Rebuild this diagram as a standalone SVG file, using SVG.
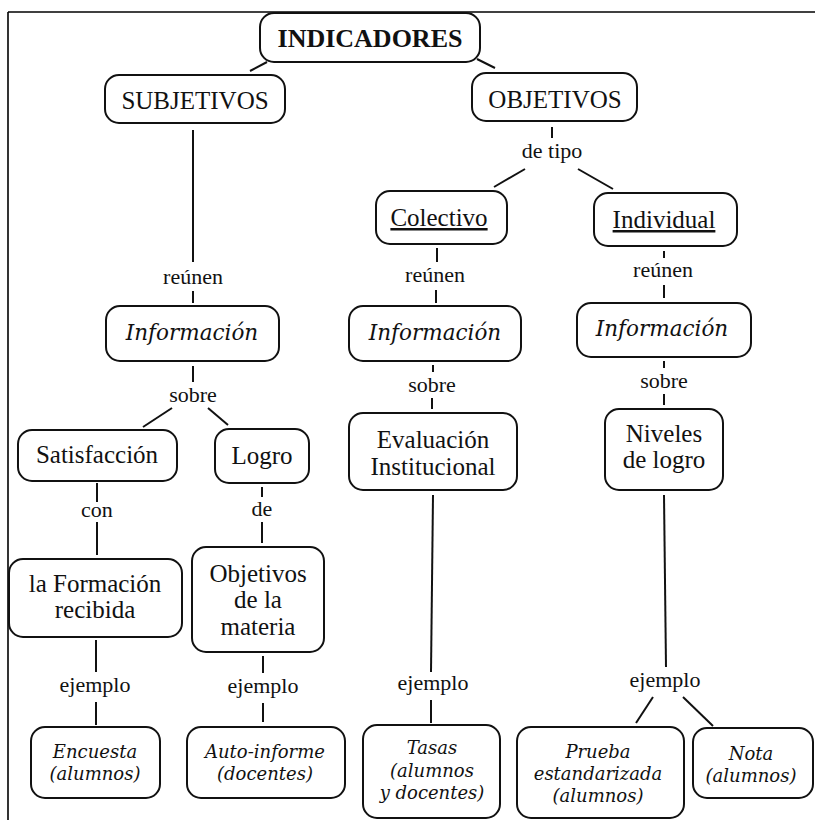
<svg xmlns="http://www.w3.org/2000/svg" width="815" height="820" viewBox="0 0 815 820">
<style>
.box{fill:#fff;stroke:#111;stroke-width:2}
.c line{stroke:#111;stroke-width:2;stroke-linecap:butt}
.border{stroke:#000;stroke-width:1.6}
text{font-family:"Liberation Serif","Times New Roman",serif;fill:#111;text-anchor:middle}
.n{font-size:25px}
.t{font-size:26px;font-weight:bold}
.l{font-size:22px}
.i{font-family:"DejaVu Serif",Georgia,serif;font-style:italic;font-size:21.5px}
.e{font-family:"DejaVu Serif",Georgia,serif;font-style:italic;font-size:18px}
.u{text-decoration:underline}
</style>
<rect width="815" height="820" fill="#fff"/>
<line class="border" x1="8" y1="12" x2="815" y2="12"/>
<line class="border" x1="8" y1="12" x2="8" y2="820"/>
<g class="c" id="connectors">
<line x1="267" y1="62" x2="250" y2="71"/>
<line x1="477" y1="59" x2="495" y2="68"/>
<line x1="193" y1="130" x2="193" y2="262"/>
<line x1="193" y1="291" x2="193" y2="303"/>
<line x1="193" y1="366" x2="193" y2="382"/>
<line x1="172" y1="408" x2="143" y2="427"/>
<line x1="208" y1="408" x2="228" y2="425"/>
<line x1="97" y1="483" x2="97" y2="502"/>
<line x1="97" y1="522" x2="97" y2="555"/>
<line x1="262" y1="487" x2="262" y2="497"/>
<line x1="262" y1="522" x2="262" y2="543"/>
<line x1="96" y1="640" x2="96" y2="672"/>
<line x1="96" y1="702" x2="96" y2="725"/>
<line x1="263" y1="656" x2="263" y2="673"/>
<line x1="263" y1="703" x2="263" y2="722"/>
<line x1="552" y1="127" x2="552" y2="138"/>
<line x1="525" y1="169" x2="494" y2="187"/>
<line x1="578" y1="169" x2="613" y2="189"/>
<line x1="437" y1="248" x2="437" y2="262"/>
<line x1="436" y1="290" x2="436" y2="303"/>
<line x1="433" y1="365" x2="433" y2="372"/>
<line x1="432" y1="398" x2="432" y2="409"/>
<line x1="433" y1="495" x2="431" y2="672"/>
<line x1="431" y1="700" x2="431" y2="723"/>
<line x1="664" y1="251" x2="664" y2="258"/>
<line x1="664" y1="285" x2="664" y2="298"/>
<line x1="664" y1="361" x2="664" y2="368"/>
<line x1="664" y1="394" x2="664" y2="405"/>
<line x1="664" y1="495" x2="666" y2="667"/>
<line x1="653" y1="697" x2="636" y2="723"/>
<line x1="683" y1="697" x2="713" y2="726"/>
</g>
<g id="labels">
<text class="l" x="193" y="284">reúnen</text>
<text class="l" x="193" y="402">sobre</text>
<text class="l" x="97" y="517">con</text>
<text class="l" x="262" y="516">de</text>
<text class="l" x="95" y="692">ejemplo</text>
<text class="l" x="263" y="693">ejemplo</text>
<text class="l" x="552" y="158">de tipo</text>
<text class="l" x="435" y="282">reúnen</text>
<text class="l" x="432" y="392">sobre</text>
<text class="l" x="433" y="690">ejemplo</text>
<text class="l" x="663" y="277">reúnen</text>
<text class="l" x="664" y="388">sobre</text>
<text class="l" x="665" y="687">ejemplo</text>
</g>
<g id="indicadores"><rect class="box" x="260" y="13" width="220" height="49" rx="14"/><text class="t" x="370" y="47">INDICADORES</text></g>
<g id="subjetivos"><rect class="box" x="105" y="75" width="180" height="48" rx="14"/><text class="n" x="195" y="109">SUBJETIVOS</text></g>
<g id="objetivos"><rect class="box" x="472" y="73" width="165" height="48" rx="14"/><text class="n" x="555" y="108">OBJETIVOS</text></g>
<g id="colectivo"><rect class="box" x="376" y="191" width="131" height="53" rx="14"/><text class="n u" x="439" y="226">Colectivo</text></g>
<g id="individual"><rect class="box" x="594" y="193" width="143" height="53" rx="14"/><text class="n u" x="664" y="228">Individual</text></g>
<g id="info-subj"><rect class="box" x="106" y="306" width="173" height="55" rx="14"/><text class="i" x="192" y="340">Información</text></g>
<g id="info-col"><rect class="box" x="349" y="306" width="172" height="55" rx="14"/><text class="i" x="435" y="340">Información</text></g>
<g id="info-ind"><rect class="box" x="577" y="303" width="174" height="54" rx="14"/><text class="i" x="662" y="336">Información</text></g>
<g id="satisfaccion"><rect class="box" x="18" y="430" width="159" height="51" rx="14"/><text class="n" x="97" y="463">Satisfacción</text></g>
<g id="logro"><rect class="box" x="215" y="429" width="94" height="54" rx="14"/><text class="n" x="262" y="464">Logro</text></g>
<g id="evaluacion"><rect class="box" x="349" y="413" width="168" height="77" rx="14"/><text class="n" x="433" y="448">Evaluación</text><text class="n" x="433" y="475">Institucional</text></g>
<g id="niveles"><rect class="box" x="605" y="409" width="118" height="81" rx="14"/><text class="n" x="664" y="442">Niveles</text><text class="n" x="664" y="468">de logro</text></g>
<g id="formacion"><rect class="box" x="9" y="559" width="173" height="78" rx="14"/><text class="n" x="95" y="592">la Formación</text><text class="n" x="95" y="618">recibida</text></g>
<g id="objetivos-materia"><rect class="box" x="192" y="547" width="132" height="105" rx="14"/><text class="n" x="258" y="582">Objetivos</text><text class="n" x="258" y="608">de la</text><text class="n" x="258" y="635">materia</text></g>
<g id="encuesta"><rect class="box" x="31" y="727" width="129" height="71" rx="14"/><text class="e" x="95" y="758">Encuesta</text><text class="e" x="95" y="780">(alumnos)</text></g>
<g id="autoinforme"><rect class="box" x="187" y="727" width="158" height="71" rx="14"/><text class="e" x="265" y="758">Auto-informe</text><text class="e" x="265" y="780">(docentes)</text></g>
<g id="tasas"><rect class="box" x="363" y="725" width="137" height="93" rx="14"/><text class="e" x="432" y="754">Tasas</text><text class="e" x="432" y="777">(alumnos</text><text class="e" x="432" y="799">y docentes)</text></g>
<g id="prueba"><rect class="box" x="517" y="727" width="167" height="91" rx="14"/><text class="e" x="598" y="758">Prueba</text><text class="e" x="598" y="780">estandarizada</text><text class="e" x="598" y="802">(alumnos)</text></g>
<g id="nota"><rect class="box" x="693" y="728" width="120" height="70" rx="14"/><text class="e" x="751" y="760">Nota</text><text class="e" x="751" y="782">(alumnos)</text></g>
</svg>
